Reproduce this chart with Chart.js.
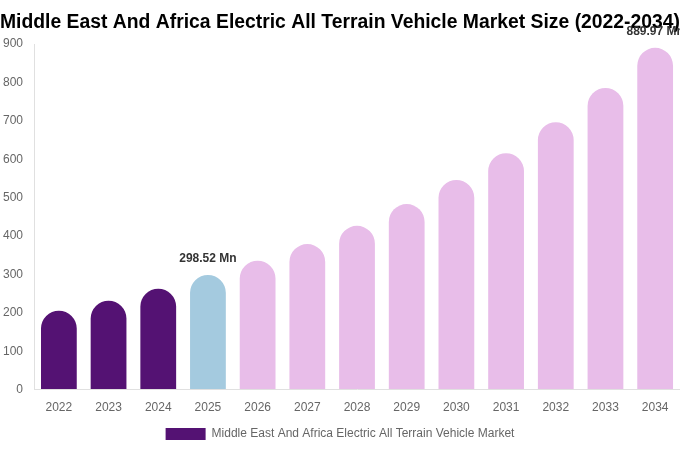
<!DOCTYPE html>
<html>
<head>
<meta charset="utf-8">
<script src="https://cdn.jsdelivr.net/npm/chart.js@4"></script>
<style>
    html, body { margin: 0; padding: 0; background: #ffffff; }
    #wrap { width: 680px; height: 450px; position: relative; }
</style>
</head>
<body>
<div id="wrap"><canvas id="marketChart"></canvas></div>
<script>
// =========================
// DATA
// =========================

const years = ["2022", "2023", "2024", "2025", "2026", "2027", "2028",
    "2029", "2030", "2031", "2032", "2033", "2034"];

const marketSize = [205.5, 231.5, 262.7, 298.52, 335.6, 379.0, 426.6,
    483.2, 546.0, 615.6, 696.4, 785.6, 889.97];

// which bars get a value label on top
const labelledYears = ["2025", "2034"];

const seriesName = "Middle East And Africa Electric All Terrain Vehicle Market";

// =========================
// COLOURS
// =========================

const pastColor = "#541273";
const baseColor = "#a4cadf";
const forecastColor = "#e8bde9";

const barColors = years.map(y => {
    if (Number(y) < 2025) return pastColor;
    if (Number(y) === 2025) return baseColor;
    return forecastColor;
});

// =========================
// VALUE LABELS PLUGIN
// =========================

const valueLabels = {
    id: "valueLabels",
    afterDatasetsDraw(chart) {
        const ctx = chart.ctx;
        const meta = chart.getDatasetMeta(0);

        ctx.save();
        ctx.font = "bold 12px 'Liberation Sans', Arial, sans-serif";
        ctx.fillStyle = "#333333";
        ctx.textAlign = "center";
        ctx.textBaseline = "bottom";

        labelledYears.forEach(y => {
            const i = years.indexOf(y);
            const bar = meta.data[i];
            ctx.fillText(marketSize[i] + " Mn", bar.x, bar.y - 10);
        });

        ctx.restore();
    }
};

// =========================
// CHART
// =========================

Chart.defaults.font.family = "'Liberation Sans', Arial, sans-serif";
Chart.defaults.color = "#666666";

new Chart(document.getElementById("marketChart"), {
    type: "bar",
    data: {
        labels: years,
        datasets: [{
            label: seriesName,
            data: marketSize,
            backgroundColor: barColors,
            borderRadius: 20,
            borderSkipped: "start"
        }]
    },
    options: {
        responsive: true,
        maintainAspectRatio: false,
        animation: false,
        plugins: {
            title: {
                display: true,
                text: "Middle East And Africa Electric All Terrain Vehicle Market Size (2022-2034)",
                color: "#000000",
                font: { size: 20, weight: "bold" },
                padding: { top: 10, bottom: 10 }
            },
            legend: {
                display: true,
                position: "bottom",
                labels: {
                    color: "#666666",
                    font: { size: 12 },
                    boxWidth: 40,
                    boxHeight: 12
                }
            },
            tooltip: { enabled: false }
        },
        scales: {
            x: {
                grid: { color: "transparent" },
                border: { color: "#e0e0e0" },
                ticks: { color: "#666666", font: { size: 12 } }
            },
            y: {
                min: 0,
                max: 900,
                grid: { color: "transparent" },
                border: { color: "#e0e0e0" },
                ticks: { stepSize: 100, color: "#666666", font: { size: 12 } }
            }
        }
    },
    plugins: [valueLabels]
});
</script>
</body>
</html>
